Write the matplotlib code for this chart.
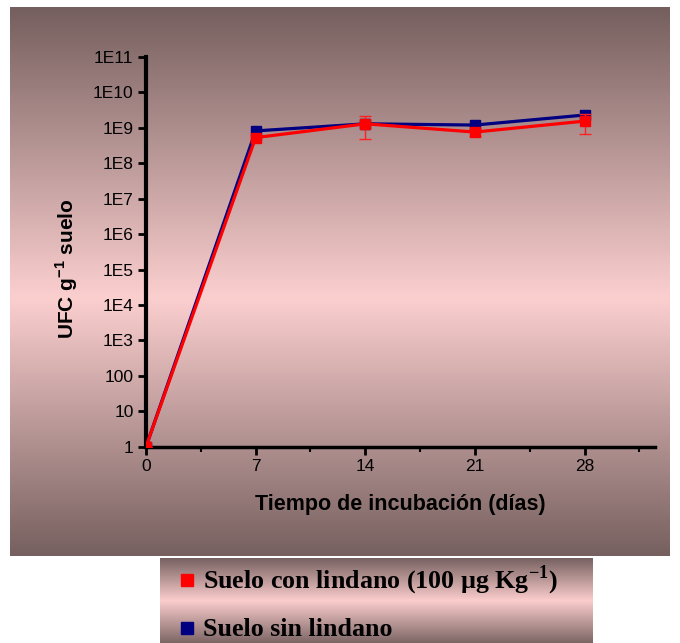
import numpy as np
import matplotlib
matplotlib.use("Agg")
import matplotlib.pyplot as plt
from matplotlib.lines import Line2D

plt.rcParams['mathtext.fontset'] = 'custom'
plt.rcParams['mathtext.rm'] = 'Liberation Serif:bold'
plt.rcParams['mathtext.sf'] = 'Liberation Sans:bold'

# data (days, CFU per g soil)
days = [0, 7, 14, 21, 28]
con_lindano = [1, 5.3e8, 1.3e9, 7.6e8, 1.55e9]
con_lindano_err = [0, 0.4e8, 0.8e9, 1.6e8, 0.9e9]
sin_lindano = [1, 8.2e8, 1.3e9, 1.2e9, 2.3e9]
sin_lindano_err = [0, 0.5e8, 0.6e8, 0.6e8, 1.5e8]

x_ticks = [0, 7, 14, 21, 28]
y_ticks = [1, 10, 100, 1e3, 1e4, 1e5, 1e6, 1e7, 1e8, 1e9, 1e10, 1e11]
y_labels = ['1', '10', '100', '1E3', '1E4', '1E5', '1E6', '1E7', '1E8', '1E9', '1E10', '1E11']

series_names = ['Suelo con lindano (100 µg Kg$^{\\mathrm{-1}}$)', 'Suelo sin lindano']
series_colors = ['#ff0000', '#000080']

W, H = 680, 643
fig = plt.figure(figsize=(W / 100, H / 100), dpi=100)


def gradient_axes(rect, stops):
    a = fig.add_axes(rect, zorder=0)
    pos = np.linspace(0, 1, 256)
    cols = np.array([c for _, c in stops]) / 255.0
    where = [p for p, _ in stops]
    img = np.stack([np.interp(pos, where, cols[:, i]) for i in range(3)], axis=1)
    a.imshow(img[:, None, :], aspect='auto', extent=[0, 1, 0, 1])
    a.axis('off')
    return a


# panel background (top -> bottom)
gradient_axes([10 / W, 1 - 556 / H, 660 / W, 549 / H],
              [(0, (117, 95, 94)), (0.53, (252, 207, 207)), (1, (118, 96, 95))])
# legend background
gradient_axes([160 / W, 0, 433 / W, 85 / H],
              [(0, (118, 97, 96)), (0.5, (252, 205, 205)), (1, (125, 102, 101))])

ax = fig.add_axes([146 / W, 1 - 446.7 / H, (655 - 146) / W, (446.7 - 57) / H], zorder=2)
ax.set_facecolor('none')

ax.errorbar(days, sin_lindano, yerr=sin_lindano_err, color=series_colors[1], lw=2.3,
            marker='s', ms=7, capsize=3.5, elinewidth=1, ecolor=series_colors[1], zorder=3)
ax.errorbar(days, con_lindano, yerr=con_lindano_err, color=series_colors[0], lw=2.3,
            marker='s', ms=7, capsize=4, elinewidth=1, ecolor='#ff2020', zorder=4)

ax.set_yscale('log')
ax.set_ylim(1, 1e11)
ax.set_xlim(0, 32.5)
ax.set_yticks(y_ticks)
ax.set_yticklabels(y_labels)
ax.set_xticks(x_ticks)
ax.set_xticks(np.arange(3.5, 32, 7), minor=True)
ax.yaxis.set_minor_locator(matplotlib.ticker.LogLocator(base=10, subs=np.arange(2, 10)))
ax.yaxis.set_minor_formatter(matplotlib.ticker.NullFormatter())

for s in ['top', 'right']:
    ax.spines[s].set_visible(False)
ax.spines['left'].set_linewidth(3)
ax.spines['bottom'].set_linewidth(2.5)
ax.tick_params(axis='both', which='major', length=6, width=2, direction='out',
               labelsize=12.5, pad=3)
ax.tick_params(axis='both', which='minor', length=3.5, width=1.5, direction='out')
for lab in ax.get_xticklabels() + ax.get_yticklabels():
    lab.set_family('Liberation Sans')

ax.set_xlabel('Tiempo de incubación (días)', family='Liberation Sans',
              fontweight='bold', fontsize=15.5, labelpad=14)
ax.set_ylabel('UFC g$^{\\mathsf{-1}}$ suelo', family='Liberation Sans',
              fontweight='bold', fontsize=15, va='center')
ax.yaxis.set_label_coords((67 - 146) / 509, (446.7 - 269) / 389.7)

# legend entries placed in the box below the panel
for i, (name, col) in enumerate(zip(series_names, series_colors)):
    yb = 1 - (588 + 47.5 * i) / H
    fig.add_artist(Line2D([187 / W], [yb + 8 / H], ls='none', marker='s', ms=8,
                          color=col, transform=fig.transFigure))
    fig.text(203 / W, yb, name, family='Liberation Serif', fontweight='bold',
             fontsize=18.7, va='baseline', ha='left')

fig.savefig('out.png', dpi=100)
